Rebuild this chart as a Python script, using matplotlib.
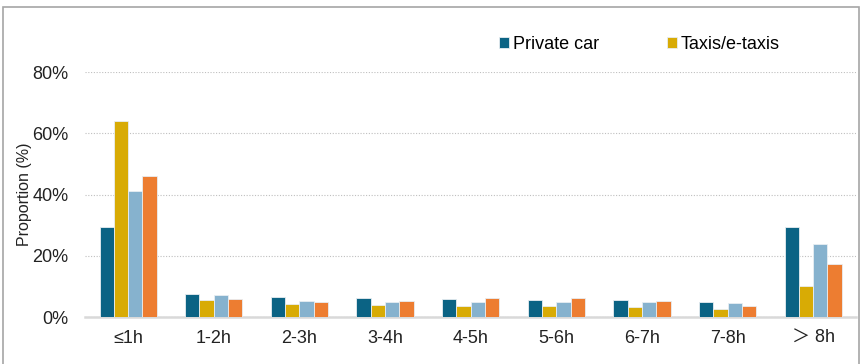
import matplotlib
matplotlib.use("Agg")
import matplotlib.pyplot as plt
import numpy as np
from matplotlib.patches import Rectangle

plt.rcParams['font.family'] = ['Liberation Sans', 'Noto Sans CJK SC', 'DejaVu Sans']

# Duration categories and proportions (%) per mode
categories = ["≤1h", "1-2h", "2-3h", "3-4h", "4-5h", "5-6h", "6-7h", "7-8h", "＞ 8h"]
series_names = ["Private car", "Taxis/e-taxis", "Series 3", "Series 4"]
private_car = [29.4, 7.4, 6.4, 6.1, 5.8, 5.7, 5.5, 5.0, 29.5]
taxis = [63.9, 5.5, 4.2, 3.9, 3.7, 3.5, 3.2, 2.6, 10.2]
series3 = [41.1, 7.1, 5.2, 4.9, 4.9, 4.8, 4.8, 4.5, 23.7]
series4 = [46.0, 5.9, 4.9, 5.4, 6.1, 6.2, 5.3, 3.6, 17.3]
colors = ["#0B6384", "#D8AB05", "#86B2CE", "#ED7D31"]

fig = plt.figure(figsize=(8.62, 3.64), dpi=100)
ax = fig.add_axes([0.099, 0.129, 0.894, 0.673])

# grey frame around the whole chart
fig.patches.append(Rectangle((0.004, -0.05), 0.993, 1.03, transform=fig.transFigure,
                             fill=False, edgecolor="#A6A6A6", linewidth=1.2))

x = np.arange(len(categories))
w = 0.167
data = [private_car, taxis, series3, series4]
bars = []
for i, vals in enumerate(data):
    b = ax.bar(x + (i - 1.5) * w, vals, w, color=colors[i], edgecolor="#E8EEF2",
               linewidth=0.6, zorder=3)
    bars.append(b)

ax.set_xlim(-0.5, len(categories) - 0.5)
ax.set_ylim(0, 80)
ax.set_yticks([0, 20, 40, 60, 80])
ax.set_yticklabels(["0%", "20%", "40%", "60%", "80%"])
ax.set_xticks(x)
ax.set_xticklabels(categories)
ax.tick_params(axis="both", length=0, labelsize=13, colors="#222222")
ax.tick_params(axis="x", pad=9)
ax.tick_params(axis="y", pad=12)
ax.set_ylabel("Proportion (%)", fontsize=11.5, color="#222222", labelpad=0)

ax.yaxis.grid(True, linestyle=(0, (1, 1.5)), color="#BFBFBF", linewidth=0.8, zorder=0)
for s in ["top", "right", "left"]:
    ax.spines[s].set_visible(False)
ax.spines["bottom"].set_color("#D9D9D9")
ax.spines["bottom"].set_linewidth(1.8)
ax.set_axisbelow(True)

fig.legend([bars[0], bars[1]], series_names[:2], loc="center left",
           bbox_to_anchor=(0.56, 0.877), ncol=2, frameon=False, fontsize=13,
           handlelength=0.55, handleheight=0.55, handletextpad=0.2, columnspacing=3.8)

fig.savefig("out.png", dpi=100)
